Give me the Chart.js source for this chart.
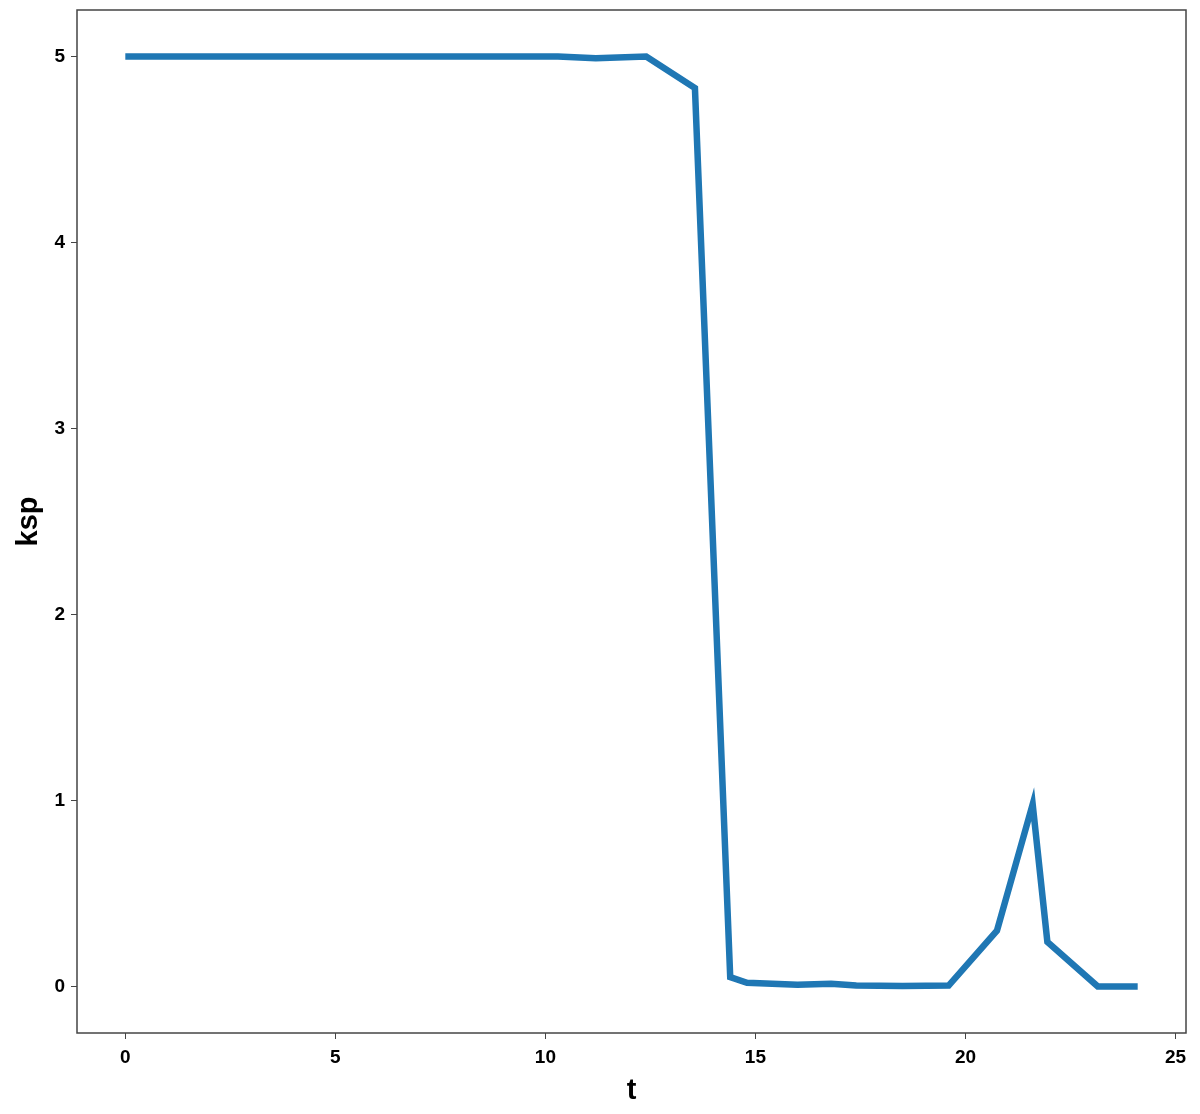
<!DOCTYPE html>
<html>
<head>
<meta charset="utf-8">
<title>ksp vs t</title>
<script src="https://cdn.jsdelivr.net/npm/chart.js@4/dist/chart.umd.min.js"></script>
<style>
  html, body { margin: 0; padding: 0; background: #fff; }
  #wrap { width: 1200px; height: 1114px; }
</style>
</head>
<body>
<div id="wrap"><canvas id="chart" width="1200" height="1114"></canvas></div>
<script>
// values
const tValues = [0, 1.2, 2.4, 3.6, 4.8, 6.0, 7.2, 8.4, 9.6, 10.3, 11.2, 12.4, 13.56, 14.4, 14.8, 16.0, 16.8, 17.4, 18.5, 19.6, 20.75, 21.6, 21.95, 23.15, 24.1];
const kspValues = [5, 5, 5, 5, 5, 5, 5, 5, 5, 5, 4.99, 5, 4.83, 0.05, 0.02, 0.01, 0.015, 0.005, 0.003, 0.005, 0.3, 0.98, 0.24, 0.0, 0.0];
const xTicks = [0, 5, 10, 15, 20, 25];
const yTicks = [0, 1, 2, 3, 4, 5];

const points = tValues.map((t, i) => ({x: t, y: kspValues[i]}));

const tickFont = {family: "'Liberation Sans', Arial, sans-serif", size: 19, weight: 'bold'};
const titleFont = {family: "'Liberation Sans', Arial, sans-serif", size: 29, weight: 'bold'};

// box around the plot area, like matplotlib spines
const frame = {
  id: 'frame',
  afterDraw(chart) {
    const a = chart.chartArea, ctx = chart.ctx;
    ctx.save();
    ctx.strokeStyle = '#444';
    ctx.lineWidth = 1.5;
    ctx.strokeRect(a.left, a.top, a.right - a.left, a.bottom - a.top);
    ctx.restore();
  }
};

new Chart(document.getElementById('chart').getContext('2d'), {
  type: 'scatter',
  data: {
    datasets: [{
      data: points,
      showLine: true,
      borderColor: '#1f77b4',
      borderWidth: 6.5,
      pointRadius: 0,
      fill: false,
      tension: 0
    }]
  },
  options: {
    responsive: false,
    animation: false,
    layout: {padding: {left: 0, right: 14, top: 10, bottom: 0}},
    plugins: {legend: {display: false}, tooltip: {enabled: false}},
    scales: {
      x: {
        type: 'linear',
        min: -1.15,
        max: 25.25,
        afterBuildTicks: s => { s.ticks = xTicks.map(v => ({value: v})); },
        afterFit: s => { s.height = 81; s.paddingLeft = 0; s.paddingRight = 0; },
        grid: {drawOnChartArea: false, drawTicks: true, tickLength: 6, color: '#444'},
        border: {display: false},
        ticks: {color: '#000', font: tickFont, padding: 7, maxRotation: 0},
        title: {display: true, text: 't', color: '#000', font: titleFont, padding: {top: 0, bottom: 6}}
      },
      y: {
        type: 'linear',
        min: -0.25,
        max: 5.25,
        afterBuildTicks: s => { s.ticks = yTicks.map(v => ({value: v})); },
        afterFit: s => { s.width = 77; s.paddingTop = 0; s.paddingBottom = 0; },
        grid: {drawOnChartArea: false, drawTicks: true, tickLength: 6, color: '#444'},
        border: {display: false},
        ticks: {color: '#000', font: tickFont, padding: 6},
        title: {display: true, text: 'ksp', color: '#000', font: titleFont, padding: {top: 12, bottom: 4}}
      }
    }
  },
  plugins: [frame]
});
</script>
</body>
</html>
